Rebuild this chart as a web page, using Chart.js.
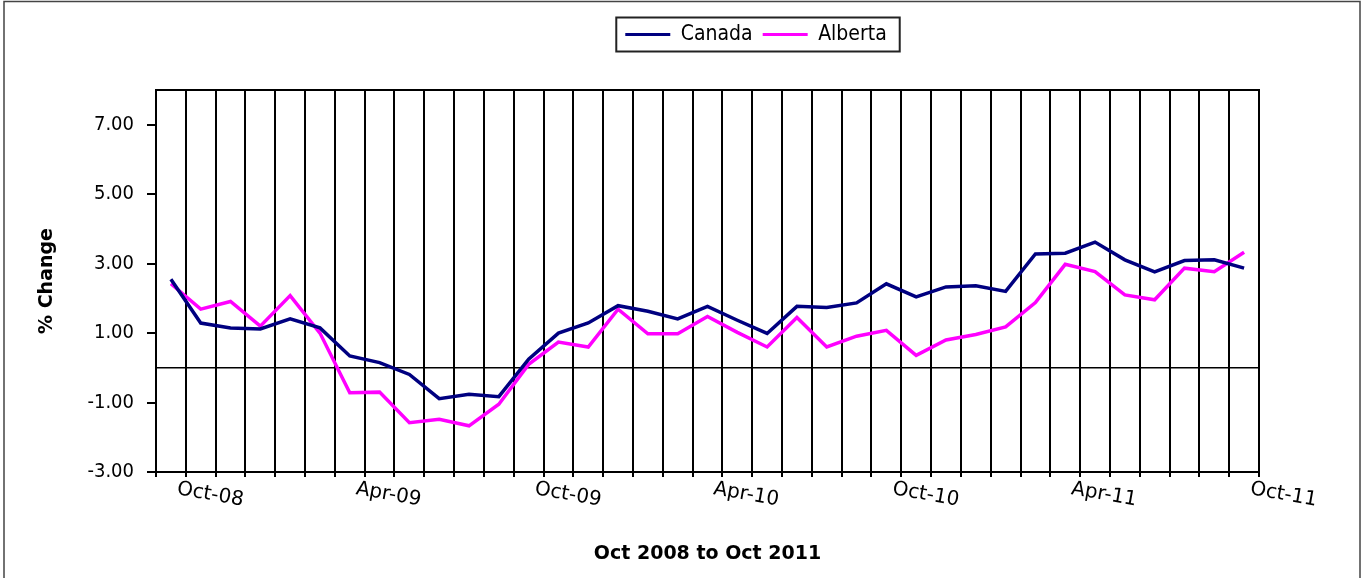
<!DOCTYPE html>
<html lang="en">
<head>
<meta charset="UTF-8">
<title>% Change, Canada and Alberta</title>
<script src="https://cdn.jsdelivr.net/npm/chart.js"></script>
<style>
  html, body { margin: 0; padding: 0; background: #fff; }
  #wrap { width: 1361px; height: 578px; }
</style>
</head>
<body>
<div id="wrap"><canvas id="chart" width="1361" height="578"></canvas></div>
<script>
// monthly categories, Oct 2008 .. Oct 2011
const months = ['Oct-08', 'Nov-08', 'Dec-08', 'Jan-09', 'Feb-09', 'Mar-09', 'Apr-09', 'May-09', 'Jun-09',
  'Jul-09', 'Aug-09', 'Sep-09', 'Oct-09', 'Nov-09', 'Dec-09', 'Jan-10', 'Feb-10', 'Mar-10', 'Apr-10',
  'May-10', 'Jun-10', 'Jul-10', 'Aug-10', 'Sep-10', 'Oct-10', 'Nov-10', 'Dec-10', 'Jan-11', 'Feb-11',
  'Mar-11', 'Apr-11', 'May-11', 'Jun-11', 'Jul-11', 'Aug-11', 'Sep-11', 'Oct-11'];

const canada = [2.55, 1.29, 1.15, 1.12, 1.41, 1.15, 0.34, 0.15, -0.19, -0.89, -0.76, -0.83, 0.25,
  1.0, 1.29, 1.79, 1.63, 1.41, 1.77, 1.37, 0.99, 1.77, 1.74, 1.87, 2.42, 2.04, 2.33, 2.36, 2.2,
  3.28, 3.3, 3.62, 3.11, 2.76, 3.09, 3.11, 2.87];

const alberta = [2.42, 1.69, 1.91, 1.2, 2.08, 1.0, -0.72, -0.7, -1.58, -1.48, -1.67, -1.05, 0.1,
  0.74, 0.6, 1.69, 0.98, 0.98, 1.48, 1.02, 0.6, 1.45, 0.6, 0.91, 1.08, 0.36, 0.8, 0.96, 1.18,
  1.88, 2.98, 2.77, 2.1, 1.96, 2.87, 2.77, 3.33];

const yTicks = [-3, -1, 1, 3, 5, 7];
const shownMonths = ['Oct-08', 'Apr-09', 'Oct-09', 'Apr-10', 'Oct-10', 'Apr-11', 'Oct-11'];

const NAVY = '#000080';
const MAGENTA = '#ff00ff';
const CONDENSED = '"DejaVu Sans Condensed", "DejaVu Sans", sans-serif';
const LEGEND_SHIFT = 124; // legend sits right of centre in the original

// extra drawing: zero line, slanted month labels, legend frame, outer frame
const extras = {
  id: 'extras',
  afterLayout(chart) {
    chart.legend.left += LEGEND_SHIFT;
    chart.legend.right += LEGEND_SHIFT;
  },
  beforeDatasetsDraw(chart) {
    const { ctx, chartArea: a, scales: { y } } = chart;
    const y0 = y.getPixelForValue(0);
    ctx.save();
    ctx.strokeStyle = '#000';
    ctx.lineWidth = 1.5;
    ctx.beginPath();
    ctx.moveTo(a.left, y0);
    ctx.lineTo(a.right, y0);
    ctx.stroke();
    ctx.restore();
  },
  afterDraw(chart) {
    const { ctx, scales: { x } } = chart;
    ctx.save();
    ctx.fillStyle = '#000';
    ctx.font = '20px "DejaVu Sans", sans-serif';
    ctx.textAlign = 'left';
    ctx.textBaseline = 'top';
    months.forEach((m, i) => {
      if (!shownMonths.includes(m)) return;
      ctx.save();
      ctx.translate(x.getPixelForValue(i) + 8, x.top + 7);
      ctx.rotate(10 * Math.PI / 180);
      ctx.fillText(m, 0, 0);
      ctx.restore();
    });

    // box round the legend
    const hb = chart.legend.legendHitBoxes;
    if (hb && hb.length) {
      const first = hb[0], last = hb[hb.length - 1];
      const cy = first.top + first.height / 2;
      ctx.strokeStyle = '#222';
      ctx.lineWidth = 2;
      ctx.strokeRect(first.left - 9, cy - 17, last.left + last.width + 13 - (first.left - 9), 34);
    }

    // chart frame
    ctx.strokeStyle = '#444';
    ctx.lineWidth = 1.5;
    ctx.strokeRect(4, 1.5, 1356, 600);
    ctx.restore();
  }
};

new Chart(document.getElementById('chart'), {
  type: 'line',
  data: {
    labels: months,
    datasets: [
      { label: 'Canada', data: canada, borderColor: NAVY, backgroundColor: NAVY, borderWidth: 3.5, pointRadius: 0, tension: 0 },
      { label: 'Alberta', data: alberta, borderColor: MAGENTA, backgroundColor: MAGENTA, borderWidth: 3.5, pointRadius: 0, tension: 0 }
    ]
  },
  options: {
    responsive: false,
    animation: false,
    layout: { padding: { left: 5, right: 102, top: 14, bottom: 0 } },
    scales: {
      x: {
        offset: true,
        grid: { offset: true, color: '#000', lineWidth: 2, drawTicks: true, tickLength: 5, tickColor: '#000' },
        border: { color: '#000', width: 2 },
        ticks: { display: false, autoSkip: false },
        title: {
          display: true,
          text: 'Oct 2008 to Oct 2011',
          color: '#000',
          font: { family: '"DejaVu Sans", sans-serif', size: 19, weight: 'bold' },
          padding: { top: 0, bottom: 13 }
        },
        afterFit(s) { s.height = 106; }
      },
      x2: {
        type: 'category',
        position: 'top',
        offset: true,
        grid: { display: false },
        ticks: { display: false },
        border: { display: true, color: '#000', width: 2 },
        afterFit(s) { s.height = 35; }
      },
      y: {
        min: -3,
        max: 8,
        afterBuildTicks(s) { s.ticks = yTicks.map(v => ({ value: v })); },
        ticks: {
          color: '#000',
          padding: 13,
          font: { family: CONDENSED, size: 20 },
          callback: v => Number(v).toFixed(2)
        },
        grid: { drawOnChartArea: false, drawTicks: true, tickLength: 9, tickColor: '#000', lineWidth: 2 },
        border: { color: '#000', width: 2 },
        title: {
          display: true,
          text: '% Change',
          color: '#000',
          font: { family: '"DejaVu Sans", sans-serif', size: 19, weight: 'bold' },
          padding: { top: 31, bottom: 0 }
        },
        afterFit(s) { s.width = 151; }
      }
    },
    plugins: {
      legend: {
        position: 'top',
        labels: {
          boxWidth: 45,
          boxHeight: 3,
          padding: 10,
          color: '#000',
          font: { family: CONDENSED, size: 21 },
          generateLabels(chart) {
            return Chart.defaults.plugins.legend.labels.generateLabels(chart)
              .map(item => Object.assign(item, { lineWidth: 0 }));
          }
        }
      },
      tooltip: { enabled: false }
    }
  },
  plugins: [extras]
});
</script>
</body>
</html>
